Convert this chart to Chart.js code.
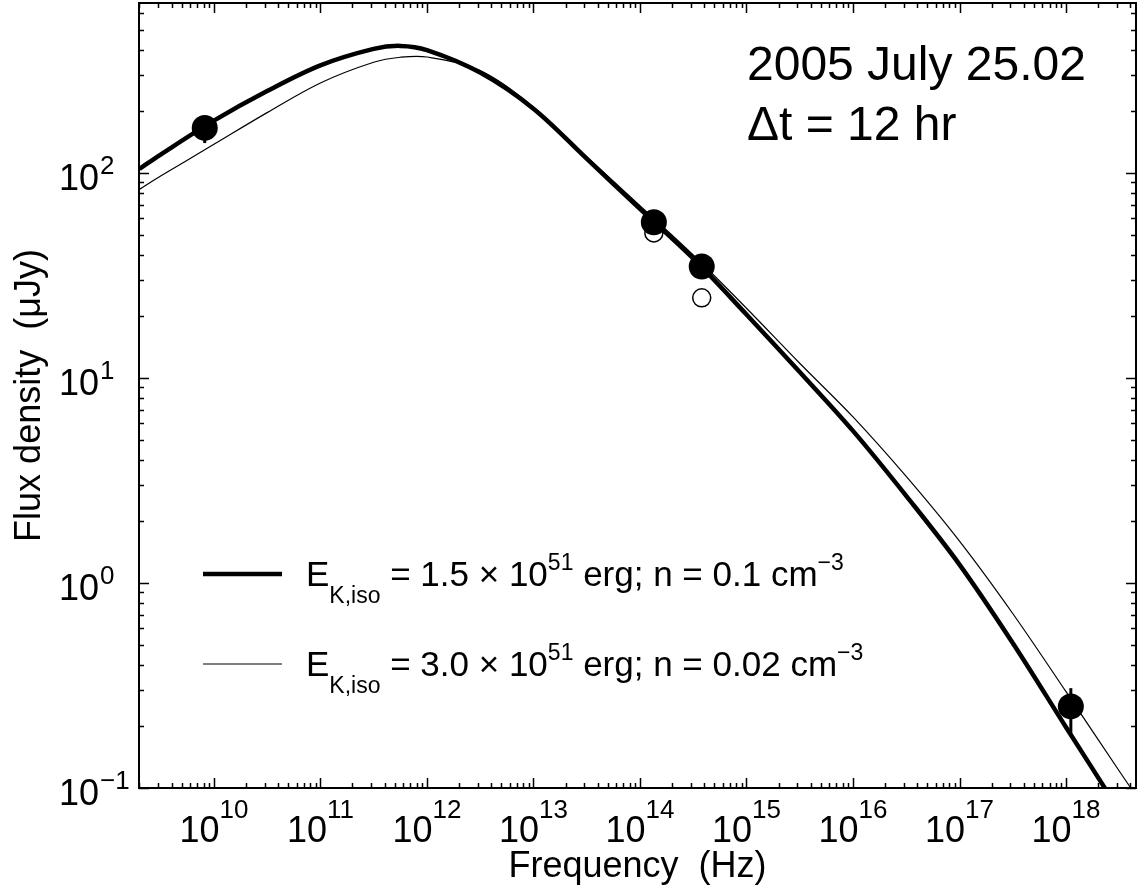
<!DOCTYPE html>
<html>
<head>
<meta charset="utf-8">
<script src="https://cdn.jsdelivr.net/npm/chart.js@4/dist/chart.umd.min.js"></script>
<style>
  html, body { margin: 0; padding: 0; background: #fff; }
</style>
</head>
<body>
<canvas id="sed" width="1137" height="892"></canvas>
<script>
const FONT = '"Liberation Sans", Arial, Helvetica, sans-serif';

// model curve, thick: E = 1.5e51 erg, n = 0.1 cm^-3  (Hz, uJy)
const thickFreq = [2e9, 3.16e9, 1e10, 3.16e10, 1e11, 3.16e11, 5.62e11, 1e12, 3.16e12,
                   1e13, 3.16e13, 1e14, 3.16e14, 1e15, 3.16e15, 1e16, 3.16e16,
                   1e17, 3.16e17, 1e18, 3.16e18];
const thickFlux = [104.7, 123, 180, 251, 335, 403, 417, 398, 309,
                   206, 117.5, 66.8, 38.3, 20.4, 10.7, 5.52, 2.66,
                   1.23, 0.51, 0.198, 0.0776];

// model curve, thin: E = 3.0e51 erg, n = 0.02 cm^-3
const thinFreq = [2e9, 3.16e9, 1e10, 3.16e10, 1e11, 3.16e11, 5.62e11, 1e12, 3.16e12,
                  1e13, 3.16e13, 1e14, 3.16e14, 1e15, 3.16e15, 1e16, 3.16e16,
                  1e17, 3.16e17, 1e18, 3.16e18, 5.01e18];
const thinFlux = [83.2, 96.6, 138, 197, 275, 347, 367, 368, 316,
                  209, 120, 69.2, 39.8, 21.9, 11.8, 6.46, 3.31,
                  1.60, 0.71, 0.295, 0.121, 0.085];

// measured points (filled) with error ranges
const detFreq = [8.2e9, 1.35e14, 3.8e14, 1.11e18];
const detFlux = [166, 57.5, 35, 0.25];
const detLow  = [140, null, null, 0.185];
const detHigh = [190, null, null, 0.307];

// uncorrected optical/NIR points (open)
const openFreq = [1.35e14, 3.8e14];
const openFlux = [51, 24.6];

// axis ticks
const xExponents = [10, 11, 12, 13, 14, 15, 16, 17, 18];
const yExponents = [-1, 0, 1, 2];
const xRange = [1.98e9, 4.54e18];
const yRange = [0.1, 675];

const legendRows = [
  [{t: 'E', k: 'b'}, {t: 'K,iso', k: 'sub'}, {t: ' = 1.5 \u00d7 10', k: 'b'}, {t: '51', k: 'sup'},
   {t: ' erg; n = 0.1 cm', k: 'b'}, {t: '\u22123', k: 'sup'}],
  [{t: 'E', k: 'b'}, {t: 'K,iso', k: 'sub'}, {t: ' = 3.0 \u00d7 10', k: 'b'}, {t: '51', k: 'sup'},
   {t: ' erg; n = 0.02 cm', k: 'b'}, {t: '\u22123', k: 'sup'}]
];

const pts = (xs, ys) => xs.map((x, i) => ({x: x, y: ys[i]}));

function expText(n) {
  return n < 0 ? '\u2212' + (-n) : String(n);
}

function drawRich(ctx, parts, x, y) {
  for (const p of parts) {
    const size = p.k === 'b' ? 35 : 23;
    ctx.font = size + 'px ' + FONT;
    const dy = p.k === 'sub' ? 17 : (p.k === 'sup' ? -16 : 0);
    ctx.fillText(p.t, x, y + dy);
    x += ctx.measureText(p.t).width;
  }
}

const framePlugin = {
  id: 'frame',
  afterDatasetsDraw(chart) {
    const ctx = chart.ctx;
    const xs = chart.scales.x, ys = chart.scales.y;
    // error bars
    ctx.save();
    ctx.strokeStyle = '#000';
    ctx.lineWidth = 3;
    detFreq.forEach((f, i) => {
      if (detLow[i] == null) return;
      const px = xs.getPixelForValue(f);
      ctx.beginPath();
      ctx.moveTo(px, ys.getPixelForValue(detLow[i]));
      ctx.lineTo(px, ys.getPixelForValue(detHigh[i]));
      ctx.stroke();
    });
    ctx.restore();
  },
  afterDraw(chart) {
    const ctx = chart.ctx;
    const a = chart.chartArea;
    const xs = chart.scales.x, ys = chart.scales.y;
    ctx.save();
    ctx.strokeStyle = '#000';
    ctx.fillStyle = '#000';

    // top and right edges of the box
    ctx.lineWidth = 2;
    ctx.beginPath();
    ctx.moveTo(a.left, a.top);
    ctx.lineTo(a.right, a.top);
    ctx.lineTo(a.right, a.bottom);
    ctx.stroke();

    // inward ticks
    ctx.lineWidth = 1.5;
    for (let n = 9; n <= 18; n++) {
      for (let k = 1; k <= 9; k++) {
        const v = k * Math.pow(10, n);
        if (v < xRange[0] || v > xRange[1]) continue;
        const px = Math.round(xs.getPixelForValue(v)) + 0.5;
        const len = k === 1 ? 10 : 5;
        ctx.beginPath();
        ctx.moveTo(px, a.bottom); ctx.lineTo(px, a.bottom - len);
        ctx.moveTo(px, a.top); ctx.lineTo(px, a.top + len);
        ctx.stroke();
      }
    }
    for (let n = -1; n <= 2; n++) {
      for (let k = 1; k <= 9; k++) {
        const v = k * Math.pow(10, n);
        if (v < yRange[0] || v > yRange[1]) continue;
        const py = Math.round(ys.getPixelForValue(v)) + 0.5;
        const len = k === 1 ? 10 : 5;
        ctx.beginPath();
        ctx.moveTo(a.left, py); ctx.lineTo(a.left + len, py);
        ctx.moveTo(a.right, py); ctx.lineTo(a.right - len, py);
        ctx.stroke();
      }
    }

    // tick labels
    ctx.textBaseline = 'alphabetic';
    ctx.textAlign = 'left';
    xExponents.forEach(n => {
      const px = xs.getPixelForValue(Math.pow(10, n));
      ctx.font = '36px ' + FONT;
      const wb = ctx.measureText('10').width;
      ctx.font = '26px ' + FONT;
      const we = ctx.measureText(expText(n)).width;
      const x0 = px - (wb + we) / 2;
      ctx.font = '36px ' + FONT;
      ctx.fillText('10', x0, 842);
      ctx.font = '26px ' + FONT;
      ctx.fillText(expText(n), x0 + wb, 818);
    });
    yExponents.forEach(n => {
      const py = ys.getPixelForValue(Math.pow(10, n));
      ctx.font = '36px ' + FONT;
      const wb = ctx.measureText('10').width;
      ctx.fillText('10', 99 - wb, py + 17);
      ctx.font = '26px ' + FONT;
      ctx.fillText(expText(n), 100, py + 1);
    });

    // axis titles
    ctx.font = '36px ' + FONT;
    ctx.textAlign = 'center';
    ctx.fillText('Frequency  (Hz)', (a.left + a.right) / 2, 877);
    ctx.save();
    ctx.translate(40, (a.top + a.bottom) / 2);
    ctx.rotate(-Math.PI / 2);
    ctx.fillText('Flux density  (\u03bcJy)', 0, 0);
    ctx.restore();

    // epoch annotation
    ctx.textAlign = 'left';
    ctx.font = '48px ' + FONT;
    ctx.fillText('2005 July 25.02', 747, 80);
    ctx.fillText('\u0394t = 12 hr', 747, 140);

    // legend
    const legendY = [574, 664];
    const legendW = [4.5, 1.2];
    legendRows.forEach((row, i) => {
      ctx.lineWidth = legendW[i];
      ctx.beginPath();
      ctx.moveTo(203, legendY[i]);
      ctx.lineTo(282, legendY[i]);
      ctx.stroke();
      drawRich(ctx, row, 306, legendY[i] + 12);
    });
    ctx.restore();
  }
};

new Chart(document.getElementById('sed'), {
  type: 'scatter',
  data: {
    datasets: [
      {
        label: 'detections',
        data: pts(detFreq, detFlux),
        pointRadius: 13,
        pointBackgroundColor: '#000',
        pointBorderColor: '#000',
        pointBorderWidth: 0,
        showLine: false,
        order: 1
      },
      {
        label: 'uncorrected',
        data: pts(openFreq, openFlux),
        pointRadius: 9,
        pointBackgroundColor: '#fff',
        pointBorderColor: '#000',
        pointBorderWidth: 1.5,
        showLine: false,
        order: 2
      },
      {
        label: 'E=1.5e51, n=0.1',
        data: pts(thickFreq, thickFlux),
        showLine: true,
        borderColor: '#000',
        borderWidth: 4.5,
        pointRadius: 0,
        tension: 0.35,
        order: 3
      },
      {
        label: 'E=3.0e51, n=0.02',
        data: pts(thinFreq, thinFlux),
        showLine: true,
        borderColor: '#000',
        borderWidth: 1.2,
        pointRadius: 0,
        tension: 0.35,
        order: 4
      }
    ]
  },
  options: {
    responsive: false,
    animation: false,
    devicePixelRatio: 1,
    layout: { autoPadding: false, padding: { left: 139, top: 3, right: 1, bottom: 104 } },
    plugins: { legend: { display: false }, tooltip: { enabled: false } },
    scales: {
      x: {
        type: 'logarithmic',
        min: xRange[0],
        max: xRange[1],
        ticks: { display: false },
        grid: { display: false, drawTicks: false },
        border: { display: true, color: '#000', width: 2 }
      },
      y: {
        type: 'logarithmic',
        min: yRange[0],
        max: yRange[1],
        ticks: { display: false },
        grid: { display: false, drawTicks: false },
        border: { display: true, color: '#000', width: 2 }
      }
    }
  },
  plugins: [framePlugin]
});
</script>
</body>
</html>
